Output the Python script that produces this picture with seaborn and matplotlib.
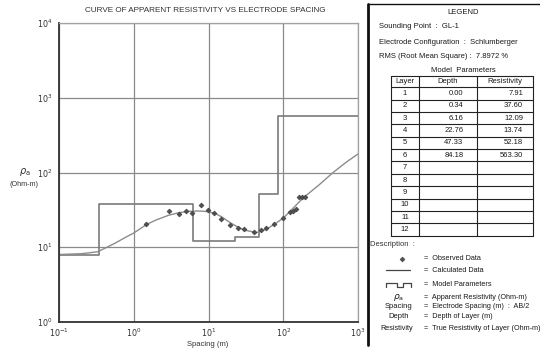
import matplotlib
matplotlib.use("Agg")
import matplotlib.pyplot as plt
import seaborn as sns
import pandas as pd
import numpy as np

# ---------------- data ----------------
obs_spacing = [1.45, 2.95, 4.0, 4.94, 5.94, 7.85, 9.85, 11.7, 14.7, 19.4, 24.7, 30, 40, 50,
               59, 75, 99, 125, 136, 148, 164, 178, 193]
obs_rho = [20.3, 30.8, 28.1, 30.8, 29.0, 37.0, 31.1, 29.0, 24.1, 19.8, 17.9, 17.5, 16.2, 16.9,
           17.9, 20.3, 24.4, 29.3, 30.2, 32.1, 46.9, 46.9, 46.9]

calc_spacing = [0.1, 0.2, 0.33, 0.55, 0.8, 1.0, 1.5, 2.0, 2.9, 4.0, 5.4, 7.0, 10, 13, 15, 20, 25,
                30, 44, 60, 80, 100, 186, 300, 464, 700, 1000]
calc_rho = [8.0, 8.2, 8.7, 11.2, 13.8, 15.5, 20.3, 23.2, 26.7, 29.0, 30.2, 30.6, 30.0, 27.5,
            25.5, 21.0, 18.5, 17.0, 15.7, 17.5, 21.0, 24.5, 46.0, 68.0, 100.0, 138.0, 177.0]

layers = [1, 2, 3, 4, 5, 6, 7, 8, 9, 10, 11, 12]
depths = [0.00, 0.34, 6.16, 22.76, 47.33, 84.18]
resistivities = [7.91, 37.60, 12.09, 13.74, 52.18, 563.30]

title = "CURVE OF APPARENT RESISTIVITY VS ELECTRODE SPACING"
sounding_point = "GL-1"
configuration = "Schlumberger"
rms = "7.8972 %"

# ---------------- style ----------------
sns.set_style("white")
FONT = ["Liberation Sans Narrow", "Liberation Sans", "DejaVu Sans"]
plt.rcParams["font.family"] = FONT
plt.rcParams["mathtext.fontset"] = "dejavusans"

W, H = 540, 353
fig = plt.figure(figsize=(W / 100, H / 100), dpi=100)
fig.patch.set_facecolor("white")

L, R, T, B = 59, 358, 23, 322
ax = fig.add_axes([L / W, 1 - B / H, (R - L) / W, (B - T) / H])

# model step data
step_x = [0.1] + depths[1:] + [1000]
step_y = resistivities + [resistivities[-1]]
df_step = pd.DataFrame({"x": step_x, "y": step_y})
df_calc = pd.DataFrame({"x": calc_spacing, "y": calc_rho})
df_obs = pd.DataFrame({"x": obs_spacing, "y": obs_rho})

ax.set_xscale("log")
ax.set_yscale("log")
ax.set_xlim(0.1, 1000)
ax.set_ylim(1, 10000)

ax.grid(True, which="major", color="#8a8a8a", lw=0.9)
ax.set_axisbelow(True)

sns.lineplot(data=df_step, x="x", y="y", ax=ax, drawstyle="steps-post", sort=False,
             color="#7a7a7a", lw=1.2, estimator=None)
sns.lineplot(data=df_calc, x="x", y="y", ax=ax, sort=False, color="#8c8c8c", lw=1.0,
             estimator=None)
sns.scatterplot(data=df_obs, x="x", y="y", ax=ax, marker="D", s=6, color="#505050",
                edgecolor="#404040", linewidth=0.5, zorder=5)

ax.set_xlabel("")
ax.set_ylabel("")
for s in ["top", "right"]:
    ax.spines[s].set_color("#a0a0a0")
    ax.spines[s].set_linewidth(0.9)
for s in ["left", "bottom"]:
    ax.spines[s].set_color("#333333")
    ax.spines[s].set_linewidth(1.3)

ax.tick_params(which="both", direction="in", top=False, right=False, colors="#333333",
               labelsize=5.8, labelcolor="#333333")
ax.tick_params(which="major", length=5, width=0.9, pad=3)
ax.tick_params(axis="y", which="major", pad=5)
ax.tick_params(which="minor", length=4, width=0.8)
ax.set_xticks([0.1, 1, 10, 100, 1000])
ax.set_xticklabels([r"$10^{-1}$", r"$10^{0}$", r"$10^{1}$", r"$10^{2}$", r"$10^{3}$"])
ax.set_yticks([1, 10, 100, 1000, 10000])
ax.set_yticklabels([r"$10^{0}$", r"$10^{1}$", r"$10^{2}$", r"$10^{3}$", r"$10^{4}$"])
ax.xaxis.set_minor_locator(matplotlib.ticker.LogLocator(base=10, subs=np.arange(2, 10)))
ax.yaxis.set_minor_locator(matplotlib.ticker.LogLocator(base=10, subs=np.arange(2, 10)))
ax.xaxis.set_minor_formatter(matplotlib.ticker.NullFormatter())
ax.yaxis.set_minor_formatter(matplotlib.ticker.NullFormatter())

# ---------------- overlay in pixel coords ----------------
ov = fig.add_axes([0, 0, 1, 1], facecolor="none")
ov.set_xlim(0, W)
ov.set_ylim(H, 0)
ov.axis("off")

TXT = "#1a1a1a"
ov.text(205, 11, title, ha="center", va="center", fontsize=5.9, color="#333333")
ov.text(25, 172, r"$\rho_{\rm a}$", ha="center", va="center", fontsize=7, color="#333333")
ov.text(24, 184, "(Ohm-m)", ha="center", va="center", fontsize=5.2, color="#333333")
ov.text(208, 344, "Spacing (m)", ha="center", va="center", fontsize=5.5, color="#333333")

# legend box
ov.plot([368, 368], [4, 345], color="#111111", lw=2.0)
ov.plot([368, 545], [4, 4], color="#111111", lw=1.0)

fs = 5.5
ov.text(463, 13, "LEGEND", ha="center", va="center", fontsize=fs, color=TXT)
ov.text(379, 27, f"Sounding Point  :  {sounding_point}", ha="left", va="center", fontsize=fs, color=TXT)
ov.text(379, 42, f"Electrode Configuration  :  {configuration}", ha="left", va="center", fontsize=fs, color=TXT)
ov.text(379, 57, f"RMS (Root Mean Square) :  {rms}", ha="left", va="center", fontsize=fs, color=TXT)
ov.text(463, 70, "Model  Parameters", ha="center", va="center", fontsize=fs, color=TXT)

# table
tx0, tx1, tx2, tx3 = 391, 419, 477, 533
ty0, tyh, rowh = 76, 87.3, 12.36
tyb = tyh + rowh * len(layers)
lc = "#222222"
for x in [tx0, tx1, tx2, tx3]:
    ov.plot([x, x], [ty0, tyb], color=lc, lw=0.8)
ov.plot([tx0, tx3], [ty0, ty0], color=lc, lw=0.8)
for i in range(len(layers) + 1):
    y = tyh + i * rowh
    ov.plot([tx0, tx3], [y, y], color=lc, lw=0.8)
ov.text((tx0 + tx1) / 2, (ty0 + tyh) / 2, "Layer", ha="center", va="center", fontsize=fs, color=TXT)
ov.text((tx1 + tx2) / 2, (ty0 + tyh) / 2, "Depth", ha="center", va="center", fontsize=fs, color=TXT)
ov.text((tx2 + tx3) / 2, (ty0 + tyh) / 2, "Resistivity", ha="center", va="center", fontsize=fs, color=TXT)
for i, lay in enumerate(layers):
    yc = tyh + (i + 0.5) * rowh
    ov.text(405, yc, str(lay), ha="center", va="center", fontsize=fs, color=TXT)
    if i < len(depths):
        ov.text(463.5, yc, f"{depths[i]:.2f}", ha="right", va="center", fontsize=fs, color=TXT)
        ov.text(523, yc, f"{resistivities[i]:.2f}", ha="right", va="center", fontsize=fs, color=TXT)

# description
ov.text(370, 245, "Description  :", ha="left", va="center", fontsize=fs, color="#333333")
desc_y = [259, 270, 285, 297.5, 306.5, 316.5, 328.5]
desc_txt = ["=  Observed Data", "=  Calculated Data", "=  Model Parameters",
            "=  Apparent Resistivity (Ohm-m)", "=  Electrode Spacing (m)  :  AB/2",
            "=  Depth of Layer (m)", "=  True Resistivity of Layer (Ohm-m)"]
for y, t in zip(desc_y, desc_txt):
    ov.text(424, y, t, ha="left", va="center", fontsize=5.2, color=TXT)
ov.plot([401.5], [259], marker="D", ms=2.5, color="#505050", mec="#404040", mew=0.4)
ov.plot([386, 410], [270, 270], color="#444444", lw=0.9)
ov.plot([386, 386, 397, 397, 403, 403, 411, 411], [287, 283, 283, 287, 287, 283, 283, 287],
        color="#444444", lw=0.9)
ov.text(399, 297.5, r"$\rho_{\rm a}$", ha="center", va="center", fontsize=6.5, color=TXT)
ov.text(399, 306.5, "Spacing", ha="center", va="center", fontsize=fs, color=TXT)
ov.text(399, 316.5, "Depth", ha="center", va="center", fontsize=fs, color=TXT)
ov.text(397, 328.5, "Resistivity", ha="center", va="center", fontsize=5.2, color=TXT)

fig.savefig("out.png", dpi=100, facecolor="white")
